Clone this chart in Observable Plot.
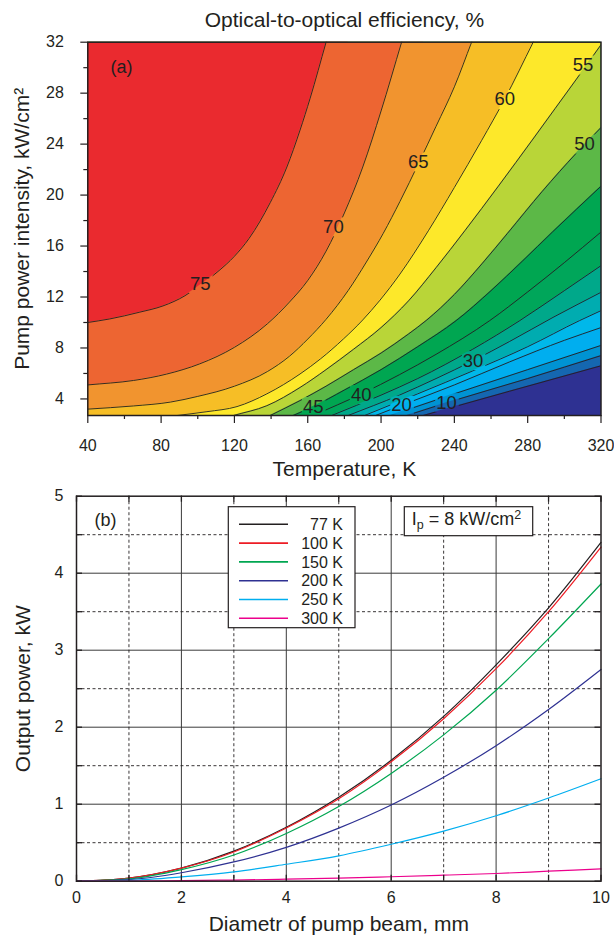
<!DOCTYPE html>
<html><head><meta charset="utf-8">
<script src="https://cdn.jsdelivr.net/npm/d3@7"></script>
<script src="https://cdn.jsdelivr.net/npm/@observablehq/plot@0.6"></script>
<style>
body{margin:0;background:#fff;}
#wrap{width:614px;}
svg{display:block;}
</style></head><body><div id="wrap"></div>
<script>
const FONT = '"Liberation Sans", Arial, Helvetica, sans-serif';
const INK = "#231f20";

// ---------------- panel (a) data ----------------
const levels = [5,10,15,20,25,30,35,40,45,50,55,60,65,70,75];
// band colours: below 5, 5-10, ..., above 75
const bandColors = ["#2e3192","#1567b0","#0093d3","#00aeef","#00b8ea","#00acb0","#00a88a","#00a65a",
                    "#00a651","#5cb847","#b9d538","#fde82a","#f6be26","#f1942f","#ed6532","#ea2a2f"];
// contour lines: [temperature K, intensity kW/cm2]
const c05 = [[223,2.7],[270,4.6],[320,6.6]];
const c10 = [[214,2.7],[235.7,3.7],[280,5.6],[320,7.4]];
const c15 = [[205,2.7],[240,4.4],[280,6.3],[320,8.2]];
const c20 = [[197,2.7],[211.2,3.5],[240,5.1],[270,6.9],[300,8.6],[320,9.6]];
const c25 = [[191,2.7],[220,4.4],[250,6.2],[280,8.1],[308.3,10.15],[320,10.93]];
const c30 = [[182,2.7],[210,4.3],[230,5.6],[250.2,7.0],[270,8.5],[293.8,10.4],[320,12.37]];
const c35 = [[173,2.7],[200,4.3],[220,5.6],[250,7.9],[275.7,10.15],[300,12.5],[320,14.46]];
const c40 = [[163,2.7],[189.4,4.4],[210,5.9],[230,7.5],[259.3,10.15],[280,12.4],[300,14.7],[320,17.1]];
const c45 = [[152,2.7],[163,3.4],[180,4.7],[200,6.3],[220,8.1],[241,10.15],[260,12.5],[277,14.8],[293.5,17.1],[320,20.7]];
const c50 = [[139.5,2.7],[155.8,3.87],[170,5.0],[185,6.3],[200,7.6],[215,9.1],[225,10.2],[240,12.2],[255,14.6],[269,17.0],[288,20.3],[306.6,23.3],[320,25.3]];
const c55 = [[119.5,2.7],[137.7,3.47],[155.8,4.9],[170,6.3],[185,7.9],[200,9.6],[215,11.7],[230,14.3],[245.7,17.2],[264,20.7],[282.9,24.4],[295,26.8],[306.6,29.1],[320,31.8]];
const c60 = [[88.7,2.7],[105,3.0],[121.4,3.4],[137.7,4.4],[155.8,5.96],[167,7.15],[179.4,8.7],[190,10.2],[199.4,11.75],[210.3,13.8],[225.8,17.2],[240,20.6],[254.8,24.27],[267.5,27.55],[283,32]];
const c65 = [[40,3.2],[65,3.45],[85,3.75],[100,4.2],[120,5.0],[138,6.15],[150,7.35],[160,8.7],[170,10.25],[182,12.5],[192,14.75],[201.2,17.0],[210.3,19.5],[220.5,22.5],[230,25.4],[240,28.5],[249.4,32]];
const c70 = [[40,5.1],[65,5.45],[83,5.95],[101,6.75],[120,8.05],[138,9.9],[150,11.6],[160,13.3],[170,15.6],[180,18.6],[190,22.2],[200,26.6],[211.2,32]];
const c75 = [[40,10.0],[52,10.28],[68,10.8],[81,11.3],[93,12.1],[101,12.9],[111,14.0],[120,15.2],[128,16.6],[139.5,19.4],[148.6,22.2],[155.8,25.1],[161.3,27.6],[170,32]];
const contourLines = [c05,c10,c15,c20,c25,c30,c35,c40,c45,c50,c55,c60,c65,c70,c75];

const labelLevels = [75,70,65,60,55,50,45,40,30,20,10];
const labelT = [101.4,174,220.3,267.5,310.2,311,163,189.2,250.2,211.2,235.7];
const labelI = [13.05,17.5,22.6,27.5,30.2,24.0,3.4,4.33,7.0,3.5,3.7];

const xTicksA = [40,80,120,160,200,240,280,320];
const xMinorA = [60,100,140,180,220,260,300];
const yTicksA = [4,8,12,16,20,24,28,32];
const yMinorA = [6,10,14,18,22,26,30];
const domT = [40,320], domI = [2.7,32];

// ---------------- panel (b) data ----------------
const diam = [0,1,2,3,4,5,6,7,8,9,10];
const temps = ["77 K","100 K","150 K","200 K","250 K","300 K"];
const lineColors = ["#231f20","#ed1c24","#00a651","#2e3192","#00aeef","#ec008c"];
const p77  = [0,0.04,0.17,0.39,0.70,1.09,1.57,2.14,2.81,3.55,4.40];
const p100 = [0,0.04,0.17,0.38,0.69,1.07,1.55,2.11,2.76,3.50,4.34];
const p150 = [0,0.03,0.15,0.34,0.62,0.97,1.40,1.90,2.48,3.15,3.86];
const p200 = [0,0.02,0.11,0.25,0.44,0.69,0.99,1.35,1.76,2.23,2.75];
const p250 = [0,0.01,0.055,0.12,0.22,0.33,0.48,0.65,0.85,1.08,1.33];
const p300 = [0,0.002,0.007,0.015,0.026,0.04,0.058,0.078,0.10,0.13,0.16];
const series = [p77,p100,p150,p200,p250,p300];
const xTicksB = [0,1,2,3,4,5,6,7,8,9,10];
const xLabelsB = [0,2,4,6,8,10];
const yTicksB = [0,0.5,1,1.5,2,2.5,3,3.5,4,4.5,5];
const yLabelsB = [0,1,2,3,4,5];
const xGridSolid = [2,4,6,8], xGridDash = [1,3,5,7,9];
const yGridSolid = [1,2,3,4], yGridDash = [0.5,1.5,2.5,3.5,4.5];

// ---------------- build panel (a) ----------------
function extend(pts) {
  const a = pts[0], b = pts[1], y = pts[pts.length-2], z = pts[pts.length-1];
  const s0 = (b[1]-a[1])/(b[0]-a[0]);
  const s1 = (z[1]-y[1])/(z[0]-y[0]);
  const out = [];
  if (a[0] > domT[0] + 1e-9) out.push([domT[0]-200, domI[0]-100]);
  out.push([a[0]-12, a[1]-s0*12]);
  out.push(...pts);
  out.push([z[0]+12, z[1]+s1*12]);
  return out;
}
const rows = [];
levels.forEach((L, k) => {
  extend(contourLines[k]).forEach(([T, I]) => rows.push({L, T, I, fill: bandColors[k+1]}));
});
const labels = labelLevels.map((L, i) => ({L, T: labelT[i], I: labelI[i]}));

const mA = {top: 41.7, bottom: 65, left: 87.3, right: 13.5};
const plotA = Plot.plot({
  width: 614, height: 480,
  marginTop: mA.top, marginBottom: mA.bottom, marginLeft: mA.left, marginRight: mA.right,
  x: {domain: domT, axis: null, label: null},
  y: {domain: domI, axis: null, label: null},
  color: {type: "identity"},
  style: {fontFamily: FONT, fontSize: "16px", color: INK, background: "white", overflow: "visible"},
  marks: [
    Plot.frame({fill: bandColors[0], stroke: null}),
    Plot.areaY(rows, {x: "T", y1: "I", y2: () => domI[1], z: "L", fill: "fill", curve: "monotone-x", clip: true}),
    Plot.line(rows, {x: "T", y: "I", z: "L", stroke: INK, strokeWidth: 0.9, curve: "monotone-x", clip: true, className: "clines"}),
    Plot.text(labels, {x: "T", y: "I", text: "L", fontSize: 18.5, fill: INK, className: "clabels"}),
    Plot.frame({stroke: INK, strokeWidth: 1.5}),
    Plot.axisY(yTicksA, {anchor: "left", tickSize: 7, tickPadding: 17, fontSize: 16, strokeWidth: 1.2, label: null}),
    Plot.axisY(yMinorA, {anchor: "left", tickSize: 4, tickFormat: () => "", strokeWidth: 1.2, label: null}),
    Plot.axisX(xTicksA, {anchor: "bottom", tickSize: 8, tickPadding: 16.6, fontSize: 16, strokeWidth: 1.2, label: null}),
    Plot.axisX(xMinorA, {anchor: "bottom", tickSize: 4, tickFormat: () => "", strokeWidth: 1.2, label: null}),
    Plot.text(["Optical-to-optical efficiency, %"], {frameAnchor: "top", dy: -15.7, lineAnchor: "bottom", textAnchor: "middle", fontSize: 21, fill: INK}),
    Plot.text(["Temperature, K"], {frameAnchor: "bottom", dy: 60, lineAnchor: "bottom", textAnchor: "middle", fontSize: 21, fill: INK}),
    Plot.text(["Pump power intensity, kW/cm²"], {frameAnchor: "left", dx: -58.8, rotate: -90, lineAnchor: "bottom", textAnchor: "middle", fontSize: 21, fill: INK}),
    Plot.text(["(a)"], {frameAnchor: "top-left", dx: 22.7, dy: 17.6, lineAnchor: "top", textAnchor: "start", fontSize: 18, fill: INK})
  ]
});

// ---------------- build panel (b) ----------------
const rowsB = [];
temps.forEach((t, k) => diam.forEach((d, i) => rowsB.push({t, d, P: series[k][i], c: lineColors[k]})));
const mB = {top: 15.7, bottom: 54.3, left: 76, right: 13.5};
const fW = 614 - mB.left - mB.right, fH = 455 - mB.top - mB.bottom;
const plotB = Plot.plot({
  width: 614, height: 455,
  marginTop: mB.top, marginBottom: mB.bottom, marginLeft: mB.left, marginRight: mB.right,
  x: {domain: [0,10], axis: null, label: null},
  y: {domain: [0,5], axis: null, label: null},
  color: {type: "identity"},
  style: {fontFamily: FONT, fontSize: "16px", color: INK, background: "white", overflow: "visible"},
  marks: [
    Plot.ruleX(xGridSolid, {stroke: "#3a3a3a", strokeWidth: 1}),
    Plot.ruleY(yGridSolid, {stroke: "#3a3a3a", strokeWidth: 1}),
    Plot.ruleX(xGridDash, {stroke: INK, strokeWidth: 0.9, strokeDasharray: "3,2.5"}),
    Plot.ruleY(yGridDash, {stroke: INK, strokeWidth: 0.9, strokeDasharray: "3,2.5"}),
    Plot.line(rowsB, {x: "d", y: "P", z: "t", stroke: "c", strokeWidth: 1.2, curve: "monotone-x"}),
    Plot.tickX(xTicksB, {x: d => d, insetTop: fH - 6, stroke: INK, strokeWidth: 1.3}),
    Plot.tickX(xTicksB, {x: d => d, insetBottom: fH - 6, stroke: INK, strokeWidth: 1.3}),
    Plot.tickY(yTicksB, {y: d => d, insetRight: fW - 6, stroke: INK, strokeWidth: 1.3}),
    Plot.tickY(yTicksB, {y: d => d, insetLeft: fW - 6, stroke: INK, strokeWidth: 1.3}),
    Plot.frame({stroke: INK, strokeWidth: 1.5}),
    Plot.axisX(xLabelsB, {anchor: "bottom", tickSize: 0, tickPadding: 10.9, fontSize: 16, tickFormat: d => String(d), label: null}),
    Plot.axisY(yLabelsB, {anchor: "left", tickSize: 0, tickPadding: 13, fontSize: 16, tickFormat: d => String(d), label: null}),
    Plot.text(["Diametr of pump beam, mm"], {frameAnchor: "bottom", dy: 49.3, lineAnchor: "bottom", textAnchor: "middle", fontSize: 21, fill: INK}),
    Plot.text(["Output power, kW"], {frameAnchor: "left", dx: -47, rotate: -90, lineAnchor: "bottom", textAnchor: "middle", fontSize: 21, fill: INK}),
    Plot.text(["(b)"], {frameAnchor: "top-left", dx: 18, dy: 17, lineAnchor: "top", textAnchor: "start", fontSize: 18, fill: INK})
  ]
});

// legend and intensity note, drawn into the plot's svg
const sB = d3.select(plotB);
const leg = sB.append("g").attr("font-family", FONT).attr("font-size", 16).attr("fill", INK);
leg.append("rect").attr("x", 228.3).attr("y", 26.7).attr("width", 126.7).attr("height", 121)
   .attr("fill", "white").attr("stroke", INK).attr("stroke-width", 1.2);
temps.forEach((t, k) => {
  const yy = 44.3 + k * 18.8;
  leg.append("line").attr("x1", 239).attr("x2", 288).attr("y1", yy).attr("y2", yy)
     .attr("stroke", lineColors[k]).attr("stroke-width", 1.6);
  leg.append("text").attr("x", 343).attr("y", yy + 5.6).attr("text-anchor", "end").text(t);
});
const note = sB.append("g").attr("font-family", FONT).attr("fill", INK);
note.append("rect").attr("x", 404.3).attr("y", 26.7).attr("width", 128.4).attr("height", 29)
    .attr("fill", "white").attr("stroke", INK).attr("stroke-width", 1.2);
const nt = note.append("text").attr("x", 411.7).attr("y", 45).attr("font-size", 18).attr("text-anchor", "start");
nt.append("tspan").text("I");
nt.append("tspan").attr("font-size", 12.5).attr("dy", 4).text("p");
nt.append("tspan").attr("dy", -4).text(" = 8 kW/cm");
nt.append("tspan").attr("font-size", 12.5).attr("dy", -6).text("2");

const wrap = document.getElementById("wrap");
wrap.appendChild(plotA);
wrap.appendChild(plotB);

// break the contour lines where the level labels sit
(function () {
  const svg = d3.select(plotA);
  const box = plotA.getBoundingClientRect();
  const defs = svg.insert("defs", ":first-child");
  const mask = defs.append("mask").attr("id", "clabel-gap").attr("maskUnits", "userSpaceOnUse")
    .attr("x", 0).attr("y", 0).attr("width", 614).attr("height", 480);
  mask.append("rect").attr("width", 614).attr("height", 480).attr("fill", "white");
  svg.selectAll(".clabels text").each(function () {
    const r = this.getBoundingClientRect();
    mask.append("rect").attr("x", r.left - box.left - 1.5).attr("y", r.top - box.top + 1)
      .attr("width", r.width + 3).attr("height", r.height - 2).attr("fill", "black");
  });
  svg.selectAll(".clines").attr("mask", "url(#clabel-gap)");
})();
</script></body></html>
